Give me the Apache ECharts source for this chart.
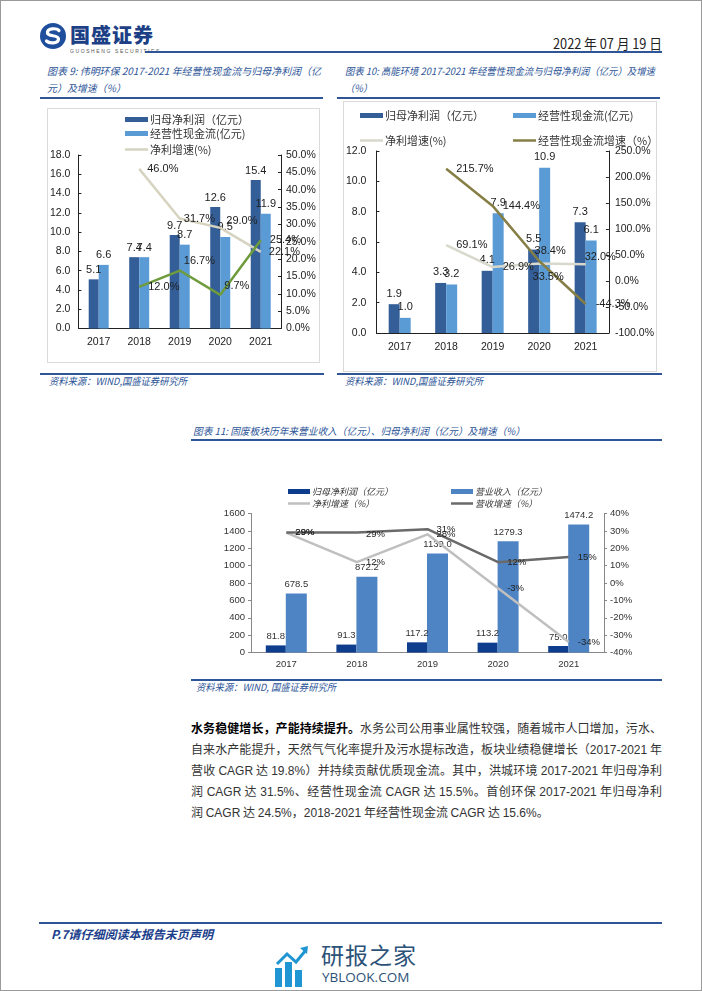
<!DOCTYPE html>
<html><head><meta charset="utf-8">
<script src="https://cdn.jsdelivr.net/npm/echarts@6/dist/echarts.min.js"></script>
<style>
body{margin:0;background:#fff;}
#page{position:relative;width:702px;height:991px;background:#fff;overflow:hidden;font-family:'Noto Sans CJK SC','Noto Sans',sans-serif;}
.t{position:absolute;white-space:nowrap;transform-origin:0 50%;}
.cap{color:#2D5597;font-style:italic;font-size:10px;line-height:14px;height:14px;}
.hl{position:absolute;background:#2E5597;}
.box{position:absolute;border:1px solid #DADADA;box-sizing:border-box;}
.para{position:absolute;left:191px;width:471px;font-size:12px;line-height:16px;height:16px;color:#333;text-align:justify;text-align-last:justify;white-space:nowrap;}
.para b{color:#000;}
.num{font-family:'Liberation Sans',Arial,sans-serif;}
</style></head>
<body><div id="page">
<div style="position:absolute;left:0;top:0;width:702px;height:991px;border:1px solid #9a9a9a;box-sizing:border-box;"></div>
<svg style="position:absolute;left:39px;top:22px" width="28" height="28" viewBox="0 0 28 28">
<circle cx="14" cy="14" r="13" fill="#1F4E9C"/>
<path d="M20 8.5 C17 5.5 8 6.5 8.5 11 C9 15 19.5 12.5 19.5 17 C19.5 21.5 10.5 22 7.5 19" stroke="#fff" stroke-width="3.2" fill="none" stroke-linecap="round"/>
</svg>
<div class="t" style="left:70px;top:24px;font-size:20px;line-height:22px;font-weight:900;color:#1C3F86;letter-spacing:1px;">国盛证券</div>
<div class="t" style="left:70px;top:48px;font-size:5px;line-height:6px;color:#555;letter-spacing:1.6px;font-family:'Liberation Sans',sans-serif;">GUOSHENG SECURITIES</div>
<div class="t" id="date" style="left:553px;top:35px;font-size:14px;line-height:16px;color:#222;">2022 年 07 月 19 日</div>
<div class="hl" style="left:145px;top:51px;width:517px;height:2px;"></div>

<div class="t cap" id="t9a" style="left:47px;top:64px;">图表 9: 伟明环保 2017-2021 年经营性现金流与归母净利润（亿</div>
<div class="t cap" id="t9b" style="left:47px;top:81px;">元）及增速（%）</div>
<div class="t cap" id="t10a" style="left:345px;top:64px;">图表 10: 高能环境 2017-2021 年经营性现金流与归母净利润（亿元）及增速</div>
<div class="t cap" id="t10b" style="left:345px;top:81px;">（%）</div>
<div class="hl" style="left:40px;top:97px;width:283px;height:1.5px;"></div>
<div class="hl" style="left:337px;top:97px;width:323px;height:1.5px;"></div>

<div class="box" style="left:47px;top:108px;width:273px;height:255px;"></div>
<div class="box" style="left:343px;top:101px;width:314px;height:271px;"></div>
<div id="c9" style="position:absolute;left:47px;top:108px;width:272px;height:254px;"></div>
<div id="c10" style="position:absolute;left:343px;top:101px;width:314px;height:270px;"></div>

<div class="hl" style="left:40px;top:373px;width:284px;height:1.5px;"></div>
<div class="hl" style="left:337px;top:373px;width:325px;height:1.5px;"></div>
<div class="t cap" id="s9" style="left:49px;top:374px;">资料来源：WIND,国盛证券研究所</div>
<div class="t cap" id="s10" style="left:345px;top:374px;">资料来源：WIND,国盛证券研究所</div>

<div class="t cap" id="t11" style="left:193px;top:424px;">图表 11: 固废板块历年来营业收入（亿元）、归母净利润（亿元）及增速（%）</div>
<div class="hl" style="left:191px;top:439px;width:471px;height:1.5px;"></div>
<div id="c11" style="position:absolute;left:190px;top:450px;width:472px;height:225px;"></div>
<div class="hl" style="left:191px;top:679px;width:471px;height:1.5px;"></div>
<div class="t cap" id="s11" style="left:196px;top:680px;">资料来源：WIND, 国盛证券研究所</div>

<div class="para" style="top:720px;"><b>水务稳健增长，产能持续提升。</b>水务公司公用事业属性较强，随着城市人口增加，污水、</div>
<div class="para" style="top:741px;">自来水产能提升，天然气气化率提升及污水提标改造，板块业绩稳健增长（<span class="num">2017-2021</span> 年</div>
<div class="para" style="top:762px;">营收 <span class="num">CAGR</span> 达 <span class="num">19.8%</span>）并持续贡献优质现金流。其中，洪城环境 <span class="num">2017-2021</span> 年归母净利</div>
<div class="para" style="top:783px;">润 <span class="num">CAGR</span> 达 <span class="num">31.5%</span>、经营性现金流 <span class="num">CAGR</span> 达 <span class="num">15.5%</span>。首创环保 <span class="num">2017-2021</span> 年归母净利</div>
<div class="para" style="top:804px;text-align-last:left;">润 <span class="num">CAGR</span> 达 <span class="num">24.5%</span>，<span class="num">2018-2021</span> 年经营性现金流 <span class="num">CAGR</span> 达 <span class="num">15.6%</span>。</div>

<div class="hl" style="left:39px;top:922px;width:623px;height:2px;"></div>
<div class="t" id="foot" style="left:51px;top:926px;font-size:12px;line-height:15px;font-weight:bold;font-style:italic;color:#1C3F8C;">P.7请仔细阅读本报告末页声明</div>

<svg style="position:absolute;left:274px;top:944px" width="36" height="44" viewBox="0 0 36 44">
<rect x="1" y="24" width="7" height="19" fill="#1F95D3"/>
<rect x="11" y="18" width="7" height="25" fill="#1F95D3"/>
<rect x="21" y="26" width="7" height="17" fill="#1F95D3"/>
<path d="M3 20 L13 10 L22 18 L32 6" stroke="#1F95D3" stroke-width="3" fill="none"/>
<path d="M26 4 L34 2 L33 10 Z" fill="#1F95D3"/>
</svg>
<div class="t" style="left:321px;top:941px;font-size:23px;line-height:26px;color:#2C5278;letter-spacing:1px;">研报之家</div>
<div class="t" style="left:322px;top:969px;font-size:13.5px;line-height:16px;color:#2C5278;font-family:'Open Sans',sans-serif;">YBLOOK.COM</div>
</div>

<script>
// ---------- data ----------
const years = ['2017', '2018', '2019', '2020', '2021'];
// 图表9 伟明环保
const wmProfit = [5.1, 7.4, 9.7, 12.6, 15.4];
const wmCash = [6.6, 7.4, 8.7, 9.5, 11.9];
const wmProfitGrowth = [null, 46.0, 31.7, 29.0, 22.1];
const wmCashGrowth = [null, 12.0, 16.7, 9.7, 25.4];
// 图表10 高能环境
const gnProfit = [1.9, 3.3, 4.1, 5.5, 7.3];
const gnCash = [1.0, 3.2, 7.9, 10.9, 6.1];
const gnProfitGrowth = [null, 69.1, 26.9, 33.5, 32.0];
const gnCashGrowth = [null, 215.7, 144.4, 38.4, -44.3];
// 图表11 固废板块
const swProfit = [81.8, 91.3, 117.2, 113.2, 75.0];
const swRevenue = [678.5, 872.2, 1139.0, 1279.3, 1474.2];
const swProfitGrowth = [29, 12, 28, -3, -34];
const swRevenueGrowth = [29, 29, 31, 12, 15];

// ---------- text fitting ----------
function fit(id, w) {
  const el = document.getElementById(id);
  const r = el.getBoundingClientRect().width;
  const s = w / r;
  el.style.transform = 'scaleX(' + s + ')';
  return s;
}
function scale(id, s) { document.getElementById(id).style.transform = 'scaleX(' + s + ')'; }
let s9 = fit('t9a', 274); scale('t9b', s9);
let s10 = fit('t10a', 310); scale('t10b', s10);
fit('t11', 332);
fit('s9', 138); fit('s10', 138); fit('s11', 140);
fit('foot', 162); fit('date', 109);

const NUM = "'Liberation Sans', Arial, sans-serif";
const CJK = "'Noto Sans CJK SC', sans-serif";

// attach per-point label tweaks (style only) to the plain value arrays
function withLabels(values, tweaks) {
  return values.map((v, i) => (tweaks && tweaks[i]) ? { value: v, label: tweaks[i] } : v);
}

function legendItem(name, left, top, opts, isLine) {
  const o = Object.assign({
    data: [{ name: name, icon: 'rect' }],
    left: left, top: top, itemWidth: 23, itemHeight: isLine ? 2.5 : 5, itemGap: 0,
    textStyle: { fontFamily: CJK, fontSize: 11, color: '#333', padding: [0, 0, 0, -3] },
    padding: 0, selectedMode: false
  }, opts || {});
  if (isLine) o.itemHeight = 2.5;
  return o;
}

function lineSeries(name, data, color, yIdx, fmt, size, dist) {
  return {
    name: name, type: 'line', yAxisIndex: yIdx, data: data,
    symbol: 'circle', symbolSize: 0.1, showSymbol: true,
    lineStyle: { color: color, width: 2.5 }, itemStyle: { color: color },
    label: { show: true, position: 'right', distance: dist, formatter: fmt, fontFamily: NUM, fontSize: size, color: '#222' }
  };
}
const pct1 = p => p.value.toFixed(1) + '%';

// ---------- chart 9 ----------
const c9 = echarts.init(document.getElementById('c9'));
const axisTxt = { fontFamily: NUM, fontSize: 10.5, color: '#222' };
c9.setOption({
  animation: false,
  legend: [
    legendItem('归母净利润（亿元）', 78, 6),
    legendItem('经营性现金流(亿元)', 78, 20),
    legendItem('净利增速(%)', 78, 36, null, true)
  ],
  grid: { left: 31, right: 38, top: 47, bottom: 33.5 },
  xAxis: {
    type: 'category', data: years,
    axisLine: { lineStyle: { color: '#222' } },
    axisTick: { inside: true, length: 3, lineStyle: { color: '#222' } },
    axisLabel: Object.assign({ margin: 8 }, axisTxt)
  },
  yAxis: [
    { type: 'value', min: 0, max: 18, interval: 2, splitLine: { show: false },
      axisLine: { show: true, lineStyle: { color: '#222' } },
      axisTick: { show: true, inside: true, length: 3, lineStyle: { color: '#222' } },
      axisLabel: Object.assign({ formatter: v => v.toFixed(1), margin: 8 }, axisTxt) },
    { type: 'value', min: 0, max: 50, interval: 5, splitLine: { show: false },
      axisLine: { show: true, lineStyle: { color: '#222' } },
      axisTick: { show: true, inside: true, length: 3, lineStyle: { color: '#222' } },
      axisLabel: Object.assign({ formatter: v => v.toFixed(1) + '%', margin: 5 }, axisTxt) }
  ],
  series: [
    { name: '归母净利润（亿元）', type: 'bar', data: wmProfit, barWidth: 10, barGap: '0%',
      itemStyle: { color: '#335E98' },
      label: { show: true, position: 'top', distance: 4, formatter: p => p.value.toFixed(1), fontFamily: NUM, fontSize: 11, color: '#222' } },
    { name: '经营性现金流(亿元)', type: 'bar', data: wmCash, barWidth: 10,
      itemStyle: { color: '#5B9BD5' },
      label: { show: true, position: 'top', distance: 4, formatter: p => p.value.toFixed(1), fontFamily: NUM, fontSize: 11, color: '#222' } },
    lineSeries('净利增速(%)', withLabels(wmProfitGrowth, { 2: { distance: 4 }, 3: { distance: 6, offset: [0, -7] } }),
      '#D6D3C0', 1, pct1, 11, 8),
    lineSeries('经营性现金流增速(%)', withLabels(wmCashGrowth, { 2: { distance: 4, offset: [0, -10] }, 3: { distance: 4, offset: [0, -9] } }),
      '#6E9B3C', 1, pct1, 11, 9)
  ]
});

// ---------- chart 10 ----------
const c10 = echarts.init(document.getElementById('c10'));
c10.setOption({
  animation: false,
  legend: [
    legendItem('归母净利润（亿元）', 17, 9),
    legendItem('经营性现金流(亿元)', 170, 9),
    legendItem('净利增速(%)', 17, 34, null, true),
    legendItem('经营性现金流增速（%）', 170, 34, null, true)
  ],
  grid: { left: 31, right: 46, top: 50, bottom: 38 },
  xAxis: {
    type: 'category', data: years,
    axisLine: { lineStyle: { color: '#222' } },
    axisTick: { inside: true, length: 3, lineStyle: { color: '#222' } },
    axisLabel: Object.assign({ margin: 9 }, axisTxt)
  },
  yAxis: [
    { type: 'value', min: 0, max: 12, interval: 2, splitLine: { show: false },
      axisLine: { show: true, lineStyle: { color: '#222' } },
      axisTick: { show: true, inside: true, length: 3, lineStyle: { color: '#222' } },
      axisLabel: Object.assign({ formatter: v => v.toFixed(1), margin: 10 }, axisTxt) },
    { type: 'value', min: -100, max: 250, interval: 50, splitLine: { show: false },
      axisLine: { show: true, lineStyle: { color: '#222' } },
      axisTick: { show: true, inside: true, length: 3, lineStyle: { color: '#222' } },
      axisLabel: Object.assign({ formatter: v => v.toFixed(1) + '%', margin: 6 }, axisTxt) }
  ],
  series: [
    { name: '归母净利润（亿元）', type: 'bar', data: gnProfit, barWidth: 11, barGap: '0%',
      itemStyle: { color: '#335E98' },
      label: { show: true, position: 'top', distance: 5, formatter: p => p.value.toFixed(1), fontFamily: NUM, fontSize: 11, color: '#222' } },
    { name: '经营性现金流(亿元)', type: 'bar', data: gnCash, barWidth: 11,
      itemStyle: { color: '#5B9BD5' },
      label: { show: true, position: 'top', distance: 5, formatter: p => p.value.toFixed(1), fontFamily: NUM, fontSize: 11, color: '#222' } },
    lineSeries('净利增速(%)', withLabels(gnProfitGrowth, {
        3: { position: 'bottom', distance: 8, offset: [9, 0] },
        4: { distance: -1, offset: [0, -7] } }),
      '#D9D8CC', 1, pct1, 11, 10),
    lineSeries('经营性现金流增速（%）', withLabels(gnCashGrowth, {
        3: { position: 'top', distance: 5, offset: [11, 0] } }),
      '#857E45', 1, pct1, 11, 10)
  ]
});

// ---------- chart 11 ----------
const c11 = echarts.init(document.getElementById('c11'));
const axTxt11 = { fontFamily: NUM, fontSize: 9.5, color: '#333' };
const leg11 = { itemWidth: 22, itemHeight: 5, textStyle: { fontFamily: CJK, fontSize: 9, color: '#333', fontStyle: 'italic', padding: [0, 0, 0, -3] } };
const leg11l = Object.assign({}, leg11, { itemHeight: 2.5 });
c11.setOption({
  animation: false,
  legend: [
    legendItem('归母净利润（亿元）', 98, 37, leg11),
    legendItem('营业收入（亿元）', 261, 37, leg11),
    legendItem('净利增速（%）', 98, 49, leg11l, true),
    legendItem('营收增速（%）', 261, 49, leg11l, true)
  ],
  grid: { left: 61, right: 58, top: 63.5, bottom: 22.5 },
  xAxis: {
    type: 'category', data: years,
    axisLine: { lineStyle: { color: '#888' } },
    axisTick: { length: 3, lineStyle: { color: '#888' } },
    axisLabel: Object.assign({ margin: 7 }, axTxt11)
  },
  yAxis: [
    { type: 'value', min: 0, max: 1600, interval: 200, splitLine: { show: false },
      axisLine: { show: true, lineStyle: { color: '#888' } },
      axisTick: { show: true, length: 3, lineStyle: { color: '#888' } },
      axisLabel: Object.assign({ formatter: v => String(v), margin: 6 }, axTxt11) },
    { type: 'value', min: -40, max: 40, interval: 10, splitLine: { show: false },
      axisLine: { show: true, lineStyle: { color: '#888' } },
      axisTick: { show: true, length: 3, lineStyle: { color: '#888' } },
      axisLabel: Object.assign({ formatter: v => v + '%', margin: 6 }, axTxt11) }
  ],
  series: [
    { name: '归母净利润（亿元）', type: 'bar', data: swProfit, barWidth: 20, barGap: '0%',
      itemStyle: { color: '#0E3D8E' },
      label: { show: true, position: 'top', distance: 4, formatter: p => p.value.toFixed(1), fontFamily: NUM, fontSize: 9.5, color: '#333' } },
    { name: '营业收入（亿元）', type: 'bar', data: swRevenue, barWidth: 21,
      itemStyle: { color: '#4F84C4' },
      label: { show: true, position: 'top', distance: 4, formatter: p => p.value.toFixed(1), fontFamily: NUM, fontSize: 9.5, color: '#333' } },
    lineSeries('净利增速（%）', swProfitGrowth, '#BFBFBF', 1, p => p.value + '%', 9.5, 9),
    lineSeries('营收增速（%）', withLabels(swRevenueGrowth, { 1: { offset: [0, 2] } }), '#6A6A6A', 1, p => p.value + '%', 9.5, 9)
  ]
});
</script>
</body></html>
